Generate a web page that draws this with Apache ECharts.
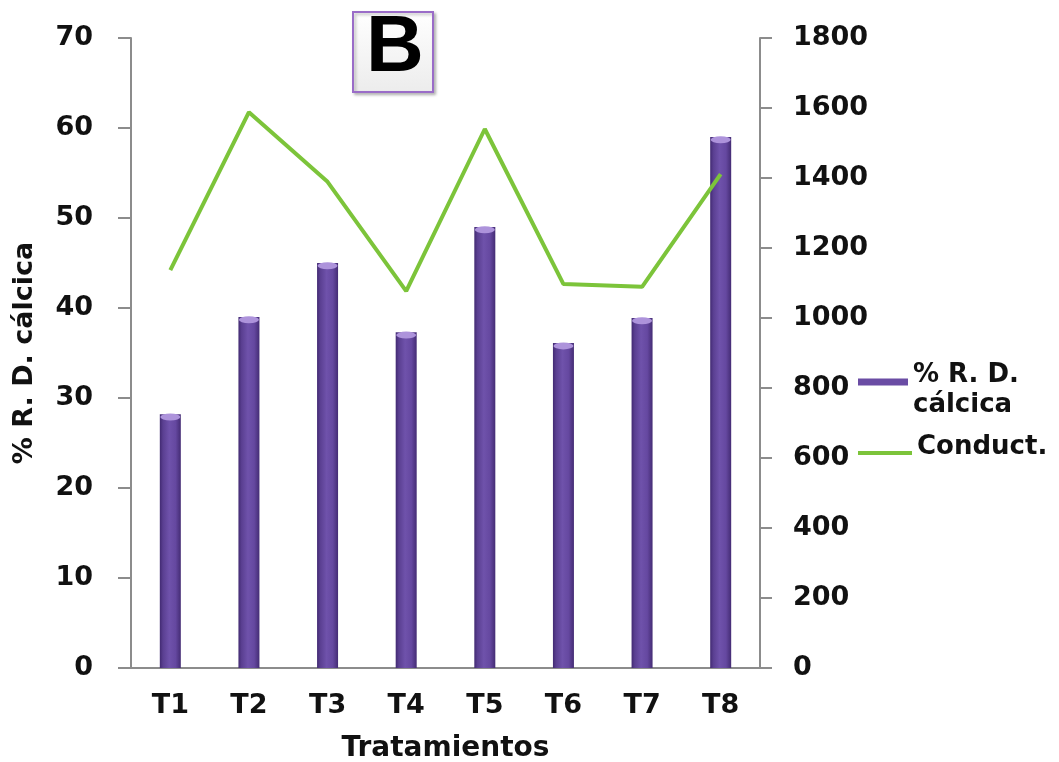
<!DOCTYPE html>
<html>
<head>
<meta charset="utf-8">
<script src="https://cdn.jsdelivr.net/npm/echarts@6/dist/echarts.min.js"></script>
<style>
html,body{margin:0;padding:0;background:#fff;}
#chart{width:1059px;height:762px;}
</style>
</head>
<body>
<div id="chart"></div>
<script>
const categories = ['T1','T2','T3','T4','T5','T6','T7','T8'];
const rdCalcica = [28.2, 39.0, 45.0, 37.3, 49.0, 36.1, 38.9, 59.0];
const conduct = [1137, 1588, 1389, 1077, 1540, 1097, 1089, 1411];
const leftTicks = {min: 0, max: 70, interval: 10};
const rightTicks = {min: 0, max: 1800, interval: 200};
const barName = '% R. D. cálcica';
const barLegendLines = ['% R. D.', 'cálcica'];
const lineName = 'Conduct.';

const FONT = '"DejaVu Sans", sans-serif';
const axisGray = '#8c8c8c';
const legendRich = {
  t: {fontFamily: FONT, fontWeight: 'bold', fontSize: 26, color: '#111', lineHeight: 30},
  s: {fontSize: 10, lineHeight: 16},
  s2: {fontSize: 8, lineHeight: 12}
};

const chart = echarts.init(document.getElementById('chart'));
chart.setOption({
  backgroundColor: '#ffffff',
  animation: false,
  grid: {left: 131, right: 299, top: 38, bottom: 94, containLabel: false, outerBoundsMode: 'none'},
  graphic: [{
    type: 'group', x: 353, y: 12, children: [
      {type: 'rect', shape: {x: 0, y: 0, width: 80, height: 80},
       style: {fill: new echarts.graphic.LinearGradient(0,0,0,1,[{offset:0,color:'#ffffff'},{offset:1,color:'#ececec'}]),
               stroke: '#9a6cc8', lineWidth: 2, shadowBlur: 3, shadowOffsetX: 2, shadowOffsetY: 2, shadowColor: 'rgba(0,0,0,0.25)'}},
      {type: 'text', x: 42, y: 37, style: {text: 'B', font: 'bold 80px "Liberation Sans", Arial, sans-serif', fill: '#000', align: 'center', verticalAlign: 'middle'}}
    ]
  }],
  legend: [{
    data: [{name: barName, icon: 'rect', itemStyle: {color: '#6a4ca4'}}],
    orient: 'vertical', left: 858, top: 347, padding: 0,
    itemWidth: 50, itemHeight: 7, itemGap: 5,
    formatter: function () { return '{s| }\n{t|' + barLegendLines[0] + '}\n{t|' + barLegendLines[1] + '}'; },
    textStyle: {fontFamily: FONT, fontWeight: 'bold', fontSize: 26, color: '#111', rich: legendRich}
  }, {
    data: [{name: lineName, icon: 'rect', itemStyle: {color: '#7cc43a'}}],
    orient: 'vertical', left: 858, top: 434, padding: 0,
    itemWidth: 54, itemHeight: 4, itemGap: 5,
    formatter: function (n) { return '{t|' + n + '}\n{s2| }'; },
    textStyle: {fontFamily: FONT, fontWeight: 'bold', fontSize: 26, color: '#111', rich: legendRich}
  }],
  xAxis: {
    type: 'category', data: categories,
    axisLine: {lineStyle: {color: axisGray, width: 2}},
    axisTick: {show: false},
    axisLabel: {fontFamily: FONT, fontWeight: 'bold', fontSize: 27, color: '#111', margin: 24},
    name: 'Tratamientos', nameLocation: 'middle', nameGap: 67,
    nameTextStyle: {fontFamily: FONT, fontWeight: 'bold', fontSize: 28, color: '#111'}
  },
  yAxis: [{
    type: 'value', position: 'left', min: leftTicks.min, max: leftTicks.max, interval: leftTicks.interval,
    axisLine: {show: true, lineStyle: {color: axisGray, width: 2}},
    axisTick: {show: true, length: 13, lineStyle: {color: axisGray, width: 2}},
    splitLine: {show: false},
    axisLabel: {fontFamily: FONT, fontWeight: 'bold', fontSize: 27, color: '#111', margin: 38},
    name: '% R. D. cálcica', nameLocation: 'middle', nameGap: 93, nameRotate: 90,
    nameTextStyle: {fontFamily: FONT, fontWeight: 'bold', fontSize: 27, color: '#111'}
  }, {
    type: 'value', position: 'right', min: rightTicks.min, max: rightTicks.max, interval: rightTicks.interval,
    axisLine: {show: true, lineStyle: {color: axisGray, width: 2}},
    axisTick: {show: true, length: 12, lineStyle: {color: axisGray, width: 2}},
    splitLine: {show: false},
    axisLabel: {fontFamily: FONT, fontWeight: 'bold', fontSize: 27, color: '#111', margin: 33, formatter: function (v) { return String(v); }}
  }],
  series: [{
    name: barName, type: 'bar', yAxisIndex: 0, data: rdCalcica, barWidth: 21, z: 2,
    itemStyle: {color: new echarts.graphic.LinearGradient(1,0,0,0,[
      {offset: 0, color: '#442c74'}, {offset: 0.25, color: '#6548a0'},
      {offset: 0.55, color: '#6f52ab'}, {offset: 0.85, color: '#5a3f91'}, {offset: 1, color: '#422a72'}])}
  }, {
    name: 'cap', type: 'pictorialBar', yAxisIndex: 0, data: rdCalcica, z: 3,
    symbol: 'circle', symbolSize: [20, 7], symbolPosition: 'end', symbolOffset: [0, '-10%'],
    itemStyle: {color: '#ad93db'}, legendHoverLink: false, silent: true
  }, {
    name: lineName, type: 'line', yAxisIndex: 1, data: conduct, z: 5,
    symbol: 'none', lineStyle: {color: '#7cc43a', width: 4}, itemStyle: {color: '#7cc43a'}
  }]
});
</script>
</body>
</html>
